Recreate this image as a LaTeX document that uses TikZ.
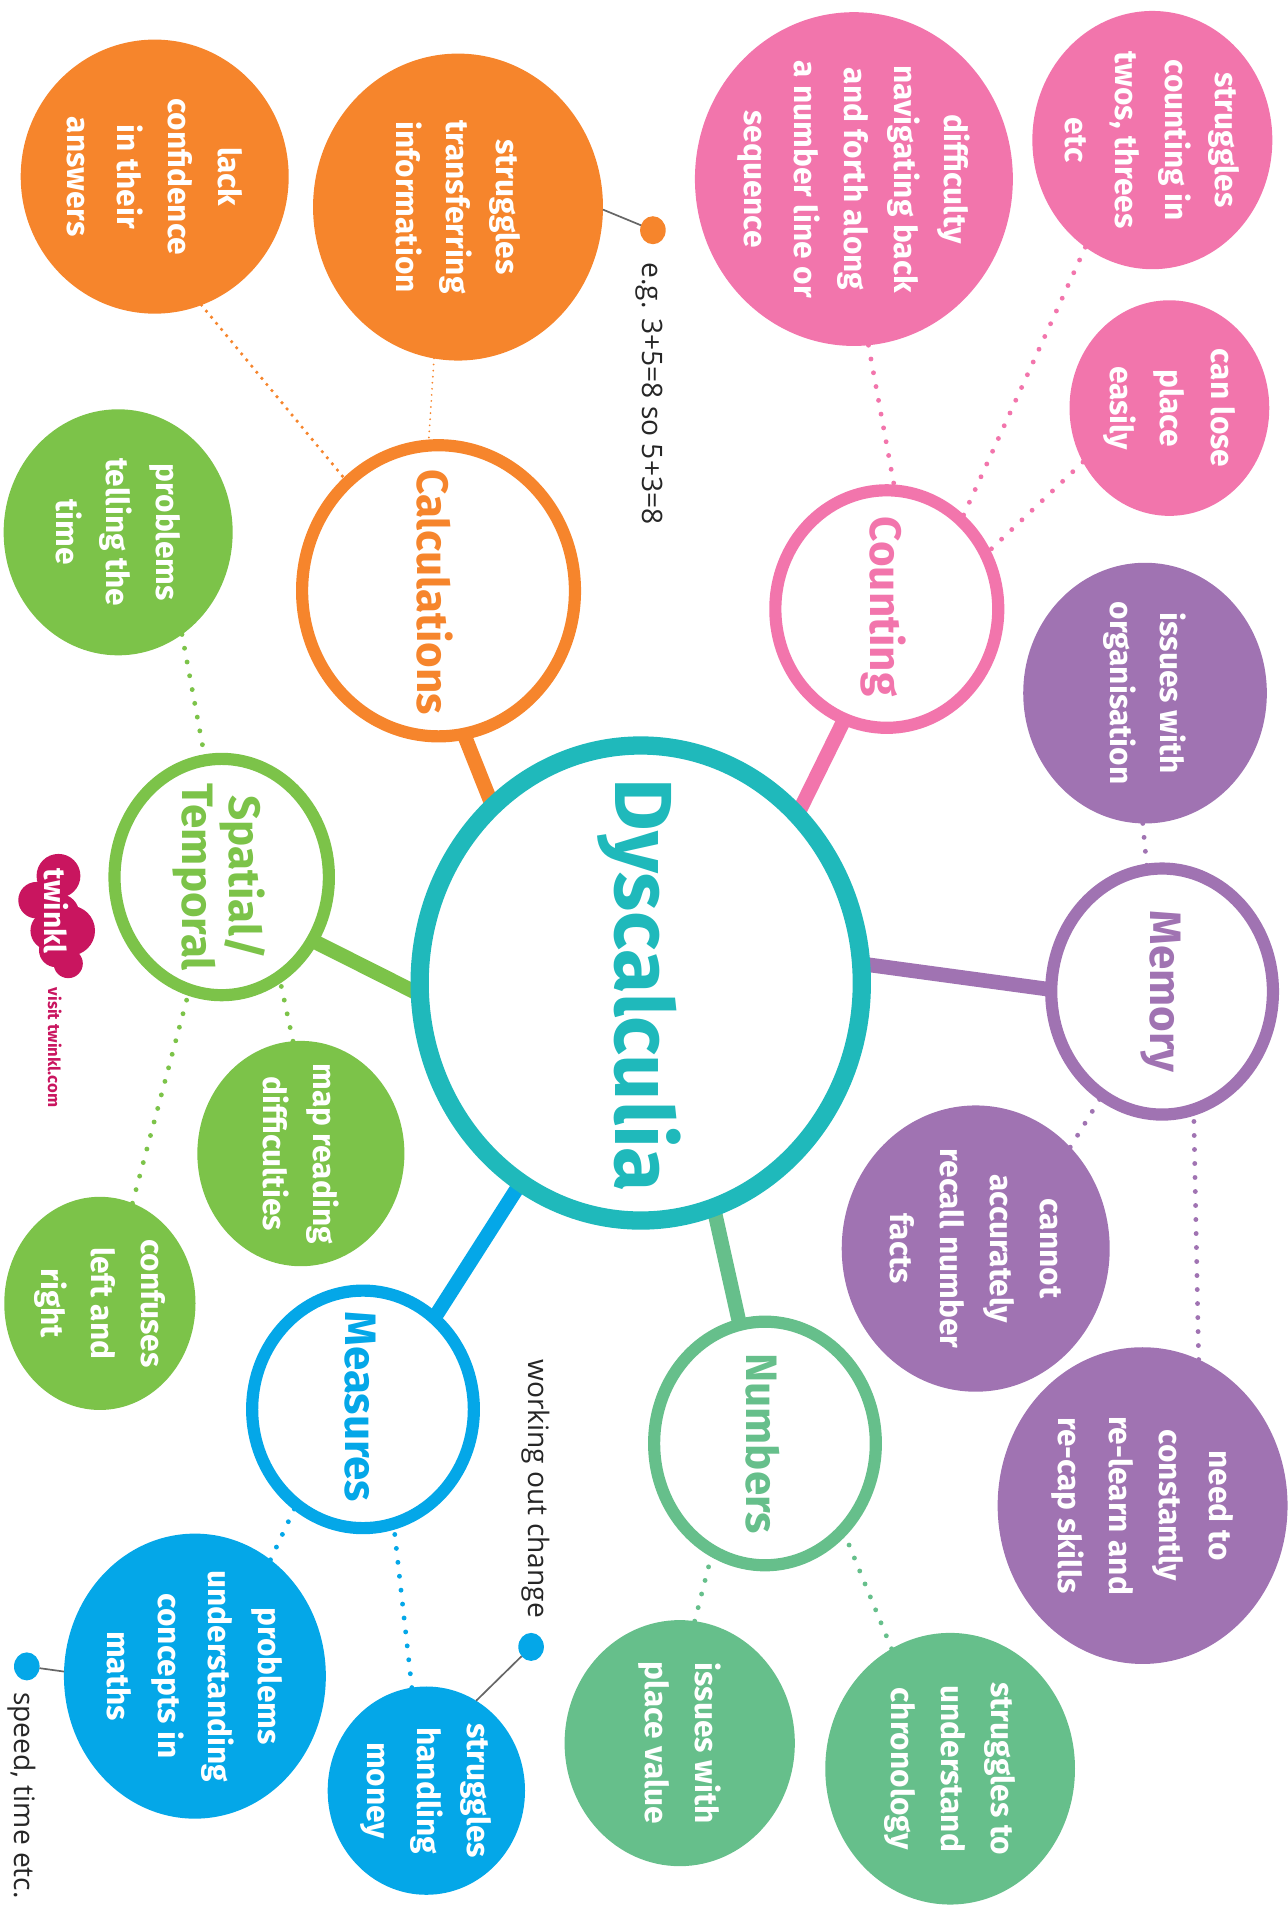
\documentclass[tikz,border=0pt]{standalone}
\usepackage{fontspec}
\setmainfont{Fira Sans}
\newfontfamily\notefont{Open Sans}
\usetikzlibrary{shapes.geometric,backgrounds}
\definecolor{tealc}{RGB}{31,185,187}
\definecolor{pinkc}{RGB}{242,117,172}
\definecolor{purplec}{RGB}{160,115,178}
\definecolor{seac}{RGB}{102,191,139}
\definecolor{bluec}{RGB}{4,167,232}
\definecolor{leafc}{RGB}{124,195,73}
\definecolor{orangec}{RGB}{246,133,44}
\definecolor{twinklc}{RGB}{201,21,95}
\def\pxu{0.6926pt}
\tikzset{
  x=0.6926pt, y=-0.6926pt,
  ring/.style={ellipse, draw=#1, line width=10*\pxu, fill=white, inner sep=0pt, outer sep=0pt},
  disc/.style={ellipse, fill=#1, inner sep=0pt, outer sep=0pt},
  sized/.style 2 args={minimum width=#1*\pxu, minimum height=#2*\pxu},
  disc text/.style={rotate=-90, align=center, text=white, font=\bfseries\fontsize{18}{28.5}\selectfont},
  ring text/.style={rotate=-90, align=center, text=#1, font=\bfseries\fontsize{25}{27}\selectfont},
  spoke/.style={draw=#1, line width=12*\pxu},
  dots/.style={draw=#1, line width=4*\pxu, line cap=round, dash pattern=on 0pt off 11.5*\pxu},
  pin/.style={ellipse, fill=#1, inner sep=0pt, outer sep=0pt, minimum width=21*\pxu, minimum height=23*\pxu},
  pin line/.style={draw=black!60, line width=1.4*\pxu},
  note/.style={rotate=-90, text=black!85, font=\notefont\fontsize{16}{18}\selectfont}
}
\begin{document}
\begin{tikzpicture}
\useasboundingbox (0,0) rectangle (1057,1568);

% Centre and topic rings
\node[ring=tealc, line width=15*\pxu, sized={363}{390}] (dys) at (526,807) {};
\node[ring=pinkc, sized={183}{195}] (cnt) at (728,500) {};
\node[ring=purplec, sized={182}{202}] (mem) at (954,814) {};
\node[ring=seac, sized={182}{200}] (num) at (628,1185) {};
\node[ring=bluec, sized={182}{195}] (mea) at (298,1157) {};
\node[ring=leafc, sized={176}{194}] (spa) at (182,720) {};
\node[ring=orangec, sized={224}{239}] (cal) at (360,485) {};

% Ring titles
\node[ring text=tealc, font=\bfseries\fontsize{46}{48}\selectfont] (dyst) at (525,809) {Dyscalculia};
\node[ring text=pinkc] (cntt) at (725,498) {Counting};
\node[ring text=purplec] (memt) at (953,814) {Memory};
\node[ring text=seac] (numt) at (626,1185) {Numbers};
\node[ring text=bluec] (meat) at (296,1155) {Measures};
\node[ring text=leafc] (spat) at (180,720) {Spatial/\\Temporal};
\node[ring text=orangec] (calt) at (357,486) {Calculations};

% Spokes
\begin{pgfonlayer}{background}
\draw[spoke=pinkc] (cnt.-111) -- (dys.47.6);
\draw[spoke=purplec] (mem.179) -- (dys.5);
\draw[spoke=seac] (num.102.6) -- (dys.-72);
\draw[spoke=bluec] (mea.52.8) -- (dys.-121.8);
\draw[spoke=leafc] (spa.-35) -- (dys.-177.6);
\draw[spoke=orangec] (cal.-80.7) -- (dys.130.9);
\end{pgfonlayer}

% Counting
\node[disc=pinkc, sized={197}{212}] (c1) at (946,115) {};
\node[disc text] (c1t) at (c1) {struggles\\counting in\\twos, threes\\etc};
\node[disc=pinkc, sized={164}{177}] (c2) at (960,335) {};
\node[disc text] (c2t) at (c2) {can lose\\place\\easily};
\node[disc=pinkc, sized={261}{274}] (c3) at (701,147) {};
\node[disc text] (c3t) at (c3) {difficulty\\navigating back\\and forth along\\a number line or\\sequence};
\draw[dots=pinkc] (c1.-122.8) -- (cnt.50);
\draw[dots=pinkc] (c2.-148) -- (cnt.29);
\draw[dots=pinkc] (c3.-85.4) -- (cnt.86);

% Memory
\node[disc=purplec, sized={200}{214}] (m1) at (940,569) {};
\node[disc text] (m1t) at (m1) {issues with\\organisation};
\node[disc=purplec, sized={220}{235}] (m2) at (801,1025) {};
\node[disc text] (m2t) at (m2) {cannot\\accurately\\recall number\\facts};
\node[disc=purplec, sized={238}{260}] (m3) at (938,1236) {};
\node[disc text] (m3t) at (m3) {need to\\constantly\\re-learn and\\re-cap skills};
\draw[dots=purplec] (m1.-91) -- (mem.97.3);
\draw[dots=purplec] (m2.47.8) -- (mem.-120.7);
\draw[dots=purplec] (m3.69.2) -- (mem.-75.8);

% Numbers
\node[disc=seac, sized={189}{202}] (n1) at (558,1431) {};
\node[disc text] (n1t) at (n1) {issues with\\place value};
\node[disc=seac, sized={205}{223}] (n2) at (780,1452) {};
\node[disc text] (n2t) at (n2) {struggles to\\understand\\chronology};
\draw[dots=seac] (n1.83.4) -- (num.-116.3);
\draw[dots=seac] (n2.116.1) -- (num.-48);

% Measures
\node[disc=bluec, sized={215}{234}] (d1) at (160,1376) {};
\node[disc text] (d1t) at (d1) {problems\\understanding\\concepts in\\maths};
\node[disc=bluec, sized={162}{171}] (d2) at (350,1470) {};
\node[disc text] (d2t) at (d2) {struggles\\handling\\money};
\draw[dots=bluec] (d1.57.1) -- (mea.-125.8);
\draw[dots=bluec] (d2.98.7) -- (mea.-75.3);

% Spatial/Temporal
\node[disc=leafc, sized={188}{202}] (s1) at (97,437) {};
\node[disc text] (s1t) at (s1) {problems\\telling the\\time};
\node[disc=leafc, sized={170}{185}] (s2) at (247,947) {};
\node[disc text] (s2t) at (s2) {map reading\\difficulties};
\node[disc=leafc, sized={157}{175}] (s3) at (82,1070) {};
\node[disc text] (s3t) at (s3) {confuses\\left and\\right};
\draw[dots=leafc] (s1.-58.9) -- (spa.98.4);
\draw[dots=leafc] (s2.94.2) -- (spa.-60);
\draw[dots=leafc] (s3.72.7) -- (spa.-106.4);

% Calculations
\node[disc=orangec, sized={238}{252}] (k1) at (376,170) {};
\node[disc text] (k1t) at (k1) {struggles\\transferring\\information};
\node[disc=orangec, sized={220}{225}] (k2) at (127,145) {};
\node[disc text] (k2t) at (k2) {lack\\confidence\\in their\\answers};
\draw[dots=orangec, line width=1.6*\pxu, dash pattern=on 0pt off 5*\pxu] (k1.-99.1) -- (cal.94.6);
\draw[dots=orangec, line width=3*\pxu, dash pattern=on 0pt off 6.5*\pxu] (k2.-70.9) -- (cal.130);

% Side notes
\node[pin=orangec] (p1) at (536,189) {};
\node[pin=bluec] (p2) at (436,1352) {};
\node[pin=bluec] (p3) at (22,1368) {};
\draw[pin line] (k1.-1) -- (p1);
\draw[pin line] (d2.61) -- (p2);
\draw[pin line] (d1.178) -- (p3);
\node[note] (p1t) at (533,323) {e.g. 3+5=8 so 5+3=8};
\node[note] (p2t) at (440,1222) {working out change};
\node[note] (p3t) at (18,1474) {speed, time etc.};

% Logo
\fill[twinklc] (48,719) circle [radius=18];
\fill[twinklc] (30,739) circle [radius=15];
\fill[twinklc] (49,750) circle [radius=16];
\fill[twinklc] (41,764) circle [radius=16];
\fill[twinklc] (57.5,764) circle [radius=20.5];
\fill[twinklc] (46,780) circle [radius=14];
\fill[twinklc] (56,791) circle [radius=12];
\node[rotate=-90, text=white, font=\bfseries\fontsize{17}{20}\selectfont] (lgt) at (46,748) {twinkl};
\node[rotate=-90, text=twinklc, font=\bfseries\fontsize{9.5}{11}\selectfont] (lgu) at (45,860) {visit twinkl.com};
\end{tikzpicture}
\end{document}
